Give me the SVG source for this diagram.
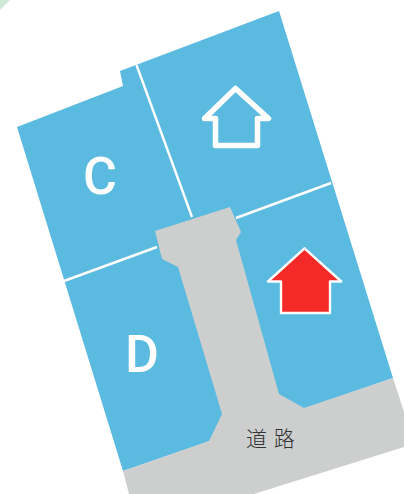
<svg xmlns="http://www.w3.org/2000/svg" width="404" height="494" viewBox="0 0 404 494">
<style>
.lot{fill:#5abae0}
.road{fill:#cdcfcf}
.div{stroke:#fff;stroke-width:2.4;fill:none}
.lbl{font-family:"Roboto",sans-serif;font-size:52px;font-weight:500;fill:#fff;text-anchor:middle}
.rd{font-family:"Noto Sans CJK JP",sans-serif;font-size:21px;font-weight:300;fill:#333;word-spacing:2px}
</style>
<rect width="404" height="494" fill="#fff"/>
<polygon points="0,0 10,0 0,10" fill="#cfe8d8"/>
<g id="site">
<polygon class="lot" points="17,127 123,86 120,71 279,11 393,378 123,471"/>
</g>
<g id="road">
<polygon class="road" points="155,231 230,207 241,232 236,240 279,394 304,408 393,378 404,412 404,447 254,494 129,494 123,471 209,441 222,414 178,267 162,259 159,247"/>
</g>
<g id="connectors">
<line class="div" x1="136.500" y1="65" x2="192" y2="217"/>
<line class="div" x1="64" y1="281" x2="157" y2="247"/>
<line class="div" x1="236" y1="218" x2="331" y2="183"/>
</g>
<g id="lot-c"><text class="lbl" x="100" y="194">C</text></g>
<g id="lot-d"><text class="lbl" x="142" y="372">D</text></g>
<g id="house-white">
<path d="M204.500 118.500L235.500 88.500L268.500 118.500H257.500V145.500H215.500V118.500Z" fill="none" stroke="#fff" stroke-width="5.500" stroke-linejoin="round"/>
</g>
<g id="house-red">
<path d="M268 281.500L304.500 248.300L341.300 281.500H330V313H281V281.500Z" fill="#f32a27" stroke="#fff" stroke-width="2.400" stroke-linejoin="round"/>
</g>
<g id="road-label"><text class="rd" x="246" y="446">道 路</text></g>
</svg>
